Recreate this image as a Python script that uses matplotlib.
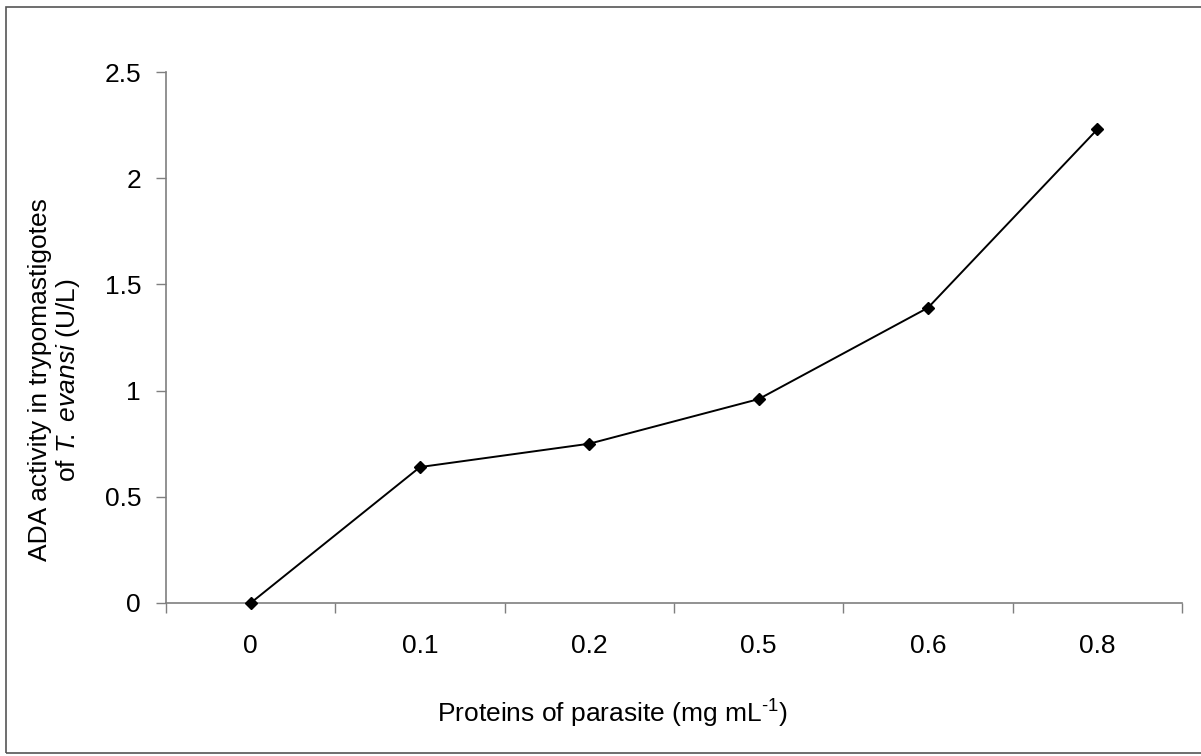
import numpy as np
import matplotlib.pyplot as plt
from matplotlib.patches import Rectangle

plt.rcParams['font.family'] = ['Liberation Sans', 'DejaVu Sans']
plt.rcParams['mathtext.fontset'] = 'custom'
plt.rcParams['mathtext.rm'] = 'Liberation Sans'
plt.rcParams['mathtext.it'] = 'Liberation Sans:italic'

categories = ['0', '0.1', '0.2', '0.5', '0.6', '0.8']
ada_activity = [0.0, 0.64, 0.75, 0.96, 1.39, 2.23]
y_ticks = [0, 0.5, 1, 1.5, 2, 2.5]
y_tick_labels = ['0', '0.5', '1', '1.5', '2', '2.5']

axis_grey = '#7f7f7f'
fs = 19

fig = plt.figure(figsize=(12.01, 7.56), dpi=100)
ax = fig.add_axes([166 / 1201, 1 - 603 / 756, 1016 / 1201, 531 / 756])

pos = np.arange(len(categories)) + 0.5
ax.plot(pos, ada_activity, color='black', lw=1.4, marker='D', markersize=6,
        clip_on=False, zorder=3)

ax.set_xlim(0, len(categories))
ax.set_ylim(0, 2.5)

# category boundaries get the tick marks, centres get the labels
ax.set_xticks(np.arange(len(categories) + 1))
ax.set_xticklabels([])
ax.set_xticks(pos, minor=True)
ax.set_xticklabels(categories, minor=True)
ax.tick_params(axis='x', which='major', direction='out', length=7,
               width=1, color=axis_grey)
ax.tick_params(axis='x', which='minor', length=0, pad=22, labelsize=fs)

ax.set_yticks(y_ticks)
ax.set_yticklabels(y_tick_labels)
ax.tick_params(axis='y', direction='out', length=7, width=1,
               color=axis_grey, pad=11, labelsize=fs)

for side in ['top', 'right']:
    ax.spines[side].set_visible(False)
for side in ['left', 'bottom']:
    ax.spines[side].set_color(axis_grey)
    ax.spines[side].set_linewidth(1.2)

ax.set_xlabel('Proteins of parasite (mg mL$^{\\text{-1}}$)', fontsize=fs)
ax.xaxis.set_label_coords(0.439, -0.178)
ax.set_ylabel('ADA activity in trypomastigotes\nof $\\mathit{T\\!.\\ evansi}$ (U/L)',
              fontsize=fs, linespacing=1.1)
ax.yaxis.set_label_coords(-0.083, 0.42)

fig.patches.append(Rectangle((6 / 1201, 3 / 756), 1.0, 746 / 756,
                             transform=fig.transFigure, fill=False,
                             edgecolor='#555555', lw=1.2))

fig.savefig('out.png', dpi=100)
